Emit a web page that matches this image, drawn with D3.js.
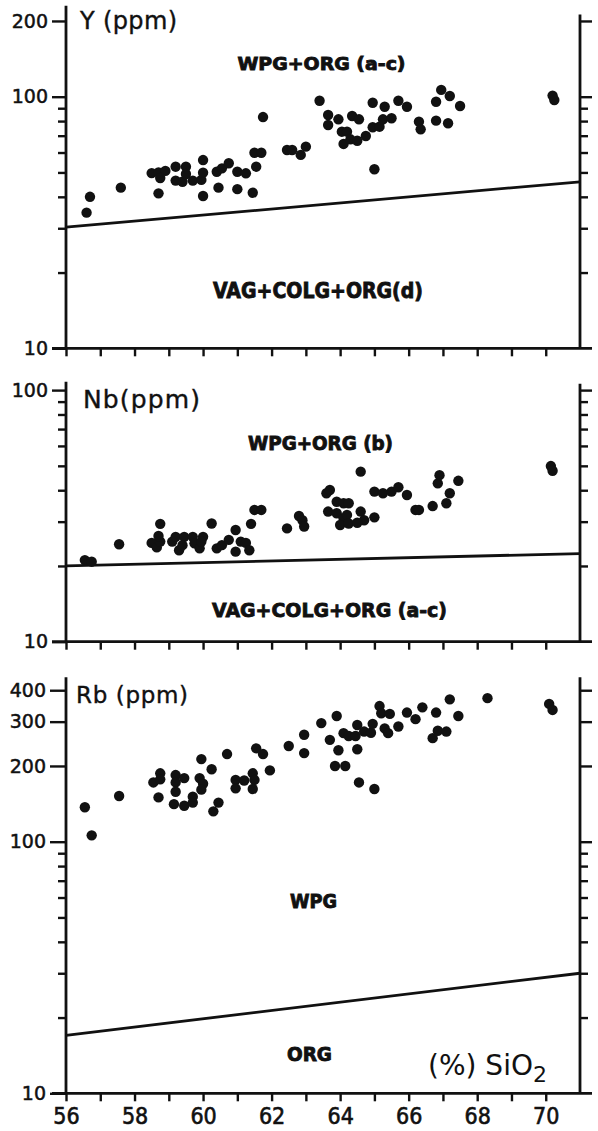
<!DOCTYPE html>
<html><head><meta charset="utf-8">
<script src="https://cdn.jsdelivr.net/npm/d3@7"></script>
<style>body{margin:0;background:#fff}svg{display:block}</style>
</head><body><svg id="c" width="598" height="1131"></svg>
<script>
// ---------- DATA ----------
const xTickValues = [56,57,58,59,60,61,62,63,64,65,66,67,68,69,70];
const xTickLabels = [56,58,60,62,64,66,68,70];
const minorYTicks = [20,30,40,50,60,70,80,90];

const yMajorTicks = [10,100,200];
const nbMajorTicks = [10,100];
const rbMajorTicks = [10,100,200,300,400];

// Y (ppm) vs SiO2
const ySio2 = [56.6,56.7,57.6,58.7,58.5,58.7,58.9,58.75,59.2,59.5,59.2,59.4,59.5,59.7,59.95,60.0,60.0,60.0,60.4,60.55,60.75,60.45,61.0,61.25,61.0,61.55,61.45,61.5,61.7,61.75,62.45,62.6,62.85,63.0,63.4,63.65,63.65,63.95,64.05,64.2,64.1,64.35,64.55,64.3,64.5,64.75,64.95,65.3,64.95,65.15,65.25,65.5,65.7,65.95,66.3,66.35,66.8,67.15,66.95,67.2,66.8,67.5,65.0,70.2,70.25];
const yVals  = [34.6,40.0,43.5,41.3,49.7,50.0,50.7,47.5,52.7,52.7,46.4,45.9,49.3,46.4,46.7,56.0,49.9,40.3,50.3,51.9,54.4,43.5,50.3,49.6,42.9,52.7,41.5,59.9,59.9,83.0,61.4,61.4,58.7,63.3,96.4,84.6,77.2,81.3,72.6,72.6,64.9,83.8,81.3,67.7,66.8,69.8,94.6,91.2,75.6,76.0,81.3,82.1,96.4,91.2,79.6,74.2,80.3,78.4,106.4,100.6,95.5,91.8,51.5,101,97];

// Nb (ppm) vs SiO2
const nbSio2 = [56.55,56.75,57.55,58.5,58.65,58.75,58.75,58.7,59.1,59.2,59.3,59.45,59.4,59.7,59.75,59.9,60.0,59.95,60.25,60.4,60.55,60.75,60.95,60.95,61.1,61.25,61.35,61.4,61.5,61.7,62.45,62.8,62.9,62.95,63.6,63.7,63.65,63.9,63.9,64.1,64.25,64.1,64.2,64.0,64.25,64.6,64.6,64.7,64.5,65.0,65.0,65.25,65.5,65.7,65.95,66.2,66.3,66.7,67.1,66.85,66.9,67.2,67.45,70.15,70.2];
const nbVals = [21.1,20.8,24.4,24.7,23.7,25.0,29.4,26.3,25.0,26.1,23.1,26.1,24.2,26.1,24.6,23.5,26.1,25.0,29.5,23.5,24.2,25.4,27.8,22.8,25.0,24.7,23.1,29.4,33.4,33.4,28.2,31.6,30.4,28.7,38.9,40.1,32.9,32.4,36.0,35.5,35.5,30.9,31.9,29.1,29.5,47.4,32.9,30.4,29.7,31.2,39.5,38.9,39.5,41.1,38.3,33.4,33.4,34.6,35.5,42.6,45.9,38.9,43.6,49.9,47.8];

// Rb (ppm) vs SiO2
const rbSio2 = [56.55,56.75,57.55,58.55,58.75,58.75,58.7,59.2,59.2,59.45,59.2,59.15,59.45,59.7,59.7,59.9,60.0,59.95,59.95,60.25,60.3,60.45,60.7,60.95,60.95,61.2,61.45,61.5,61.45,61.55,61.75,61.95,62.5,62.95,62.95,63.45,63.9,63.7,64.1,64.25,64.45,64.5,64.7,64.9,64.95,63.95,63.85,64.15,64.5,64.55,65.0,65.15,65.2,65.45,65.3,65.4,65.7,65.95,66.2,66.4,66.8,66.7,66.85,67.1,67.2,67.45,68.3,70.1,70.2];
const rbVals = [137,106,152,172,187,177,150,184,172,179,158,141,139,143,151,179,170,161,213,194,132,143,223,176,163,175,187,176,162,235,223,192,240,266,225,296,316,254,270,263,263,291,274,271,294,231,200,200,233,172,162,346,324,322,282,270,287,326,307,342,326,258,276,274,368,316,372,353,334];

// discrimination boundaries
const yBoundarySio2 = [56,71];  const yBoundaryVals = [30.3,45.9];
const nbBoundarySio2 = [56,71]; const nbBoundaryVals = [20,22.4];
const rbBoundarySio2 = [56,71]; const rbBoundaryVals = [17,30];

// ---------- DRAW ----------
const svg = d3.select("#c");
svg.append("rect").attr("width",598).attr("height",1131).attr("fill","#fff");
const ink = "#111";
const x = d3.scaleLinear().domain([56,71]).range([66,580]);
const decade = 251.6;

function panel(o){
  const y = d3.scaleLog().domain([10,o.top]).range([o.bottom, o.bottom - decade*Math.log10(o.top/10)]);
  const g = svg.append("g");
  g.append("line").attr("x1",x(56)).attr("x2",x(56)).attr("y1",y(10)).attr("y2",y(o.top))
    .attr("stroke",ink).attr("stroke-width",2.8);
  g.append("line").attr("x1",x(71)).attr("x2",x(71)).attr("y1",y(10)).attr("y2",y(o.rightTop))
    .attr("stroke",ink).attr("stroke-width",2.8);
  g.append("line").attr("x1",52).attr("x2",592).attr("y1",y(10)).attr("y2",y(10))
    .attr("stroke",ink).attr("stroke-width",2.8);

  const la = g.append("g").attr("transform",`translate(${x(56)},0)`)
    .call(d3.axisLeft(y).tickValues(o.major).tickSize(o.majorLen).tickSizeOuter(0).tickFormat(d3.format("d")).tickPadding(3));
  const lm = g.append("g").attr("transform",`translate(${x(56)},0)`)
    .call(d3.axisLeft(y).tickValues(minorYTicks).tickSize(8).tickSizeOuter(0).tickFormat(""));
  const ra = g.append("g").attr("transform",`translate(${x(71)},0)`)
    .call(d3.axisRight(y).tickValues(o.major.filter(v=>v>10)).tickSize(12).tickSizeOuter(0).tickFormat(""));
  const rm = g.append("g").attr("transform",`translate(${x(71)},0)`)
    .call(d3.axisRight(y).tickValues(minorYTicks).tickSize(8).tickSizeOuter(0).tickFormat(""));
  const ba = g.append("g").attr("transform",`translate(0,${y(10)})`)
    .call(d3.axisBottom(x).tickValues(xTickValues).tickSize(8).tickSizeOuter(0)
      .tickFormat(d => (o.xLabels && xTickLabels.includes(d)) ? d : "").tickPadding(6));
  [la,lm,ra,rm,ba].forEach(a=>{
    a.select(".domain").remove();
    a.selectAll(".tick line").attr("stroke",ink).attr("stroke-width",2.4);
  });
  la.selectAll(".tick text").attr("fill",ink).attr("font-family","DejaVu Sans")
    .attr("font-size",19).attr("dx",-1).attr("stroke",ink).attr("stroke-width",0.5);
  ba.selectAll(".tick text").attr("fill",ink).attr("font-family","DejaVu Sans Condensed")
    .attr("font-size",23).attr("stroke",ink).attr("stroke-width",0.6);

  const line = d3.line().x(d=>x(d[0])).y(d=>y(d[1]));
  g.append("path").datum(o.bx.map((v,i)=>[v,o.by[i]])).attr("d",line)
    .attr("fill","none").attr("stroke",ink).attr("stroke-width",2.8);

  g.append("g").selectAll("circle").data(o.xs.map((v,i)=>[v,o.vs[i]])).join("circle")
    .attr("cx",d=>x(d[0])).attr("cy",d=>y(d[1])).attr("r",5.2).attr("fill",ink);

  g.append("text").attr("x",o.title[1]).attr("y",o.title[2]).text(o.title[0])
    .attr("font-family","DejaVu Sans").attr("font-size",o.title[3]).attr("fill",ink)
    .attr("textLength",o.title[4]).attr("lengthAdjust","spacing")
    .attr("stroke",ink).attr("stroke-width",0.4);
  o.labels.forEach(l=>{
    g.append("text").attr("x",l[1]).attr("y",l[2]).text(l[0])
      .attr("text-anchor","middle").attr("font-family","DejaVu Sans").attr("font-weight","bold")
      .attr("font-size",l[3]).attr("textLength",l[4]).attr("lengthAdjust","spacingAndGlyphs")
      .attr("fill",ink).attr("stroke",ink).attr("stroke-width",0.9);
  });
  return y;
}

panel({bottom:348.3, top:230, rightTop:212, major:yMajorTicks, majorLen:14,
  xs:ySio2, vs:yVals, bx:yBoundarySio2, by:yBoundaryVals,
  title:["Y (ppm)",80,29,24,97],
  labels:[["WPG+ORG (a-c)",321.5,70,18,168],["VAG+COLG+ORG(d)",318,298,21,210]]});

panel({bottom:641.7, top:108, rightTop:106, major:nbMajorTicks, majorLen:14,
  xs:nbSio2, vs:nbVals, bx:nbBoundarySio2, by:nbBoundaryVals,
  title:["Nb(ppm)",83,408,25,117],
  labels:[["WPG+ORG (b)",320.5,450,19,145],["VAG+COLG+ORG (a-c)",329.5,617,20,235]]});

panel({bottom:1093.3, top:450, rightTop:450, major:rbMajorTicks, majorLen:16, xLabels:true,
  xs:rbSio2, vs:rbVals, bx:rbBoundarySio2, by:rbBoundaryVals,
  title:["Rb (ppm)",76,703,23,112],
  labels:[["WPG",313.5,908,19,47],["ORG",309.5,1061,19,45]]});

const xt = svg.append("text").attr("x",428).attr("y",1075).attr("font-family","DejaVu Sans")
  .attr("font-size",28).attr("fill",ink);
xt.append("tspan").text("(%) SiO");
xt.append("tspan").text("2").attr("font-size",22).attr("dy",7);
</script></body></html>
